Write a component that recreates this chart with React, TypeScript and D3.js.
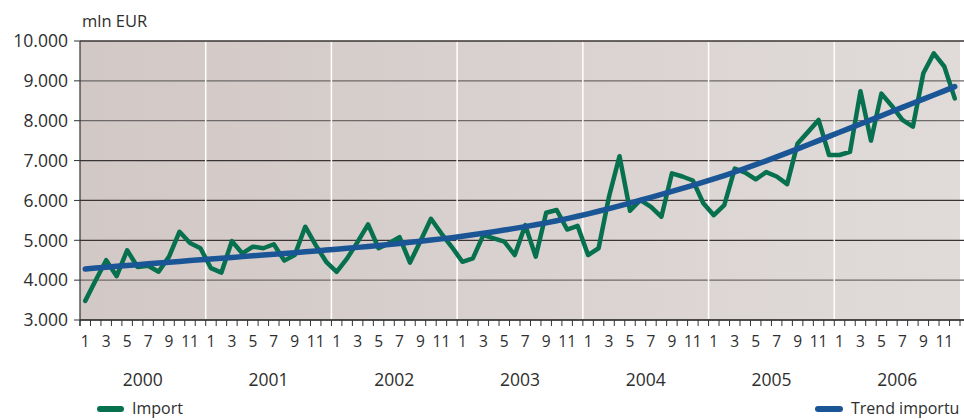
import React from "react";
import * as d3 from "d3";

const years = ["2000", "2001", "2002", "2003", "2004", "2005", "2006"];
const monthLabels = ["1", "", "3", "", "5", "", "7", "", "9", "", "11", ""];
const yTicks = [3000, 4000, 5000, 6000, 7000, 8000, 9000, 10000];

const importValues = [
  3480, 4000, 4500, 4100, 4750, 4330, 4360, 4210, 4590, 5215, 4930, 4800,
  4300, 4190, 4980, 4670, 4840, 4800, 4900, 4490, 4630, 5340, 4880, 4460,
  4210, 4545, 4960, 5400, 4800, 4925, 5080, 4440, 4980, 5540, 5170, 4830,
  4460, 4545, 5130, 5050, 4965, 4630, 5380, 4590, 5690, 5760, 5270, 5360,
  4630, 4800, 6100, 7110, 5740, 6010, 5840, 5590, 6680, 6600, 6500, 5930,
  5630, 5880, 6800, 6700, 6530, 6710, 6600, 6410, 7430, 7720, 8020, 7140,
  7140, 7220, 8740, 7500, 8680, 8370, 8020, 7850, 9190, 9690, 9360, 8560,
];

const trendValues = [
  4280, 4302, 4324, 4346, 4367, 4388, 4409, 4430, 4450, 4470, 4490, 4510,
  4530, 4550, 4570, 4590, 4610, 4630, 4650, 4670, 4690, 4711, 4732, 4754,
  4776, 4799, 4822, 4846, 4870, 4895, 4921, 4948, 4976, 5005, 5035, 5066,
  5102, 5139, 5177, 5216, 5256, 5298, 5342, 5388, 5437, 5489, 5544, 5602,
  5664, 5728, 5794, 5862, 5932, 6004, 6077, 6151, 6226, 6302, 6379, 6458,
  6540, 6625, 6713, 6804, 6898, 6994, 7092, 7192, 7294, 7397, 7501, 7606,
  7710, 7814, 7918, 8022, 8126, 8230, 8334, 8438, 8542, 8646, 8750, 8854,
];

const seriesNames = ["Import", "Trend importu"];

const W = 964;
const H = 420;
const left = 80;
const right = 960;
const top = 41;
const bottom = 320;
const GREEN = "#06704f";
const BLUE = "#1a5596";
const TEXT = "#2e2e2e";
const FONT = "'Open Sans', 'Noto Sans', sans-serif";

export default function App() {
  const n = importValues.length;
  const x = d3.scaleBand<number>().domain(d3.range(n)).range([left, right]).padding(0);
  const bw = x.bandwidth();
  const cx = (i: number) => (x(i) as number) + bw / 2;
  const y = d3.scaleLinear().domain([3000, 10000]).range([bottom, top]);

  const line = d3
    .line<number>()
    .x((_, i) => cx(i))
    .y((d) => y(d));

  const yearW = bw * 12;

  return (
    <svg
      width={W}
      height={H}
      style={{ position: "absolute", left: 0, top: 0, background: "#fff" }}
      fontFamily={FONT}
    >
      <defs>
        <linearGradient id="bg" x1="0" x2="1" y1="0" y2="0">
          <stop offset="0" stopColor="#d2c8c6" />
          <stop offset="1" stopColor="#e0dbd9" />
        </linearGradient>
      </defs>
      <rect x={left} y={top} width={right - left} height={bottom - top} fill="url(#bg)" />

      {/* horizontal gridlines */}
      {yTicks.map((t) => (
        <line
          key={t}
          x1={left}
          x2={W}
          y1={y(t)}
          y2={y(t)}
          stroke={t === 8000 || t === 9000 || t === 4000 ? "#6e6868" : "#3a3434"}
          strokeWidth={1.3}
        />
      ))}

      {/* year separators */}
      {years.slice(1).map((yr, k) => (
        <line
          key={yr}
          x1={left + yearW * (k + 1)}
          x2={left + yearW * (k + 1)}
          y1={top + 1}
          y2={bottom - 1}
          stroke="#ffffff"
          strokeWidth={1.5}
        />
      ))}

      {/* axes */}
      <line x1={left} x2={left} y1={top} y2={bottom + 6} stroke="#333" strokeWidth={1.2} />
      <line x1={left} x2={W} y1={bottom} y2={bottom} stroke="#333" strokeWidth={1.2} />
      {d3.range(n + 1).map((i) => (
        <line
          key={i}
          x1={left + i * bw}
          x2={left + i * bw}
          y1={bottom}
          y2={bottom + 6}
          stroke="#333"
          strokeWidth={1}
        />
      ))}
      {yTicks.map((t) => (
        <line key={"yt" + t} x1={left - 6} x2={left} y1={y(t)} y2={y(t)} stroke="#333" strokeWidth={1} />
      ))}

      {/* y labels */}
      {yTicks.map((t) => (
        <text
          key={"yl" + t}
          x={68}
          y={y(t)}
          dy="0.36em"
          textAnchor="end"
          fontSize={17.5}
          fill={TEXT}
        >
          {d3.format(",")(t).replace(",", ".")}
        </text>
      ))}
      <text x={82} y={27} fontSize={16.5} fill={TEXT}>
        mln EUR
      </text>

      {/* month labels */}
      {d3.range(n).map((i) =>
        monthLabels[i % 12] ? (
          <text key={"m" + i} x={cx(i)} y={347} textAnchor="middle" fontSize={15.5} fill={TEXT}>
            {monthLabels[i % 12]}
          </text>
        ) : null
      )}
      {/* year labels */}
      {years.map((yr, k) => (
        <text
          key={"y" + yr}
          x={left + yearW * (k + 0.5)}
          y={386}
          textAnchor="middle"
          fontSize={17.5}
          fill={TEXT}
        >
          {yr}
        </text>
      ))}

      {/* series */}
      <path
        d={line(importValues) || ""}
        fill="none"
        stroke={GREEN}
        strokeWidth={4.5}
        strokeLinejoin="round"
        strokeLinecap="round"
      />
      <path
        d={line(trendValues) || ""}
        fill="none"
        stroke={BLUE}
        strokeWidth={5.5}
        strokeLinejoin="round"
        strokeLinecap="round"
      />

      {/* legend */}
      <line x1={100} x2={121} y1={409} y2={409} stroke={GREEN} strokeWidth={6} strokeLinecap="round" />
      <text x={132} y={414} fontSize={16} fill={TEXT}>
        {seriesNames[0]}
      </text>
      <line x1={818} x2={840} y1={409} y2={409} stroke={BLUE} strokeWidth={6} strokeLinecap="round" />
      <text x={851} y={414} fontSize={16} fill={TEXT}>
        {seriesNames[1]}
      </text>
    </svg>
  );
}
